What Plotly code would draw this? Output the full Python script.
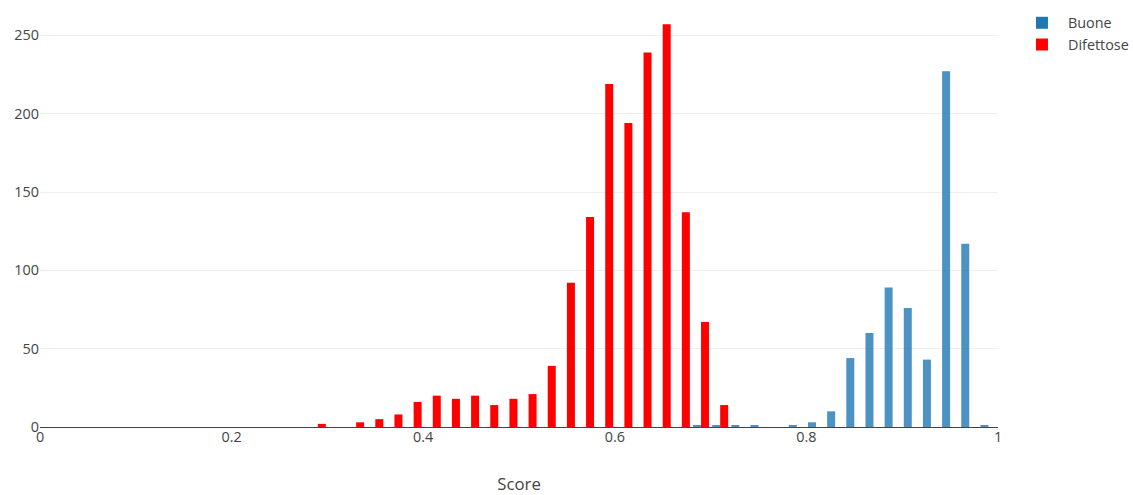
import plotly.graph_objects as go

buone_x = [0.69, 0.71, 0.73, 0.75, 0.79, 0.81, 0.83, 0.85, 0.87, 0.89, 0.91, 0.93, 0.95, 0.97, 0.99]
buone_y = [1, 1, 1, 1, 1, 3, 10, 44, 60, 89, 76, 43, 227, 117, 1]

difettose_x = [0.29, 0.33, 0.35, 0.37, 0.39, 0.41, 0.43, 0.45, 0.47, 0.49, 0.51,
               0.53, 0.55, 0.57, 0.59, 0.61, 0.63, 0.65, 0.67, 0.69, 0.71]
difettose_y = [2, 3, 5, 8, 16, 20, 18, 20, 14, 18, 21,
               39, 92, 134, 219, 194, 239, 257, 137, 67, 14]

x_ticks = [0, 0.2, 0.4, 0.6, 0.8, 1]
x_ticklabels = ["0", "0.2", "0.4", "0.6", "0.8", "1"]

fig = go.Figure()
fig.add_trace(go.Bar(x=buone_x, y=buone_y, name="Buone",
                     marker=dict(color="#1f77b4", opacity=0.8)))
fig.add_trace(go.Bar(x=difettose_x, y=difettose_y, name="Difettose",
                     marker=dict(color="#ff0000", opacity=1)))

font = "Open Sans, verdana, arial, sans-serif"
fig.update_layout(
    template="none",
    width=1133, height=495,
    barmode="group", bargap=0.165, bargroupgap=0,
    margin=dict(l=40, r=135, t=4, b=68, pad=0, autoexpand=False),
    paper_bgcolor="white", plot_bgcolor="white",
    font=dict(family=font, size=14.4, color="#444"),
    legend=dict(font=dict(size=14.4, color="#444"),
                xref="container", yref="container", x=0.8967, y=0.986,
                xanchor="left", yanchor="top", itemwidth=42),
    xaxis=dict(range=[0, 1], tickvals=x_ticks, ticktext=x_ticklabels,
               showgrid=False, zeroline=False, showline=False, ticks="",
               title=dict(text="Score", font=dict(size=16.8, color="#444"), standoff=38)),
    yaxis=dict(range=[0, 270], dtick=50, showgrid=True, gridcolor="#eee", gridwidth=1,
               zeroline=True, zerolinecolor="#444", zerolinewidth=1, showline=False, ticks=""),
)
fig.write_html("out.html", config={"displayModeBar": False},
               post_script="document.body.style.margin='0';")
